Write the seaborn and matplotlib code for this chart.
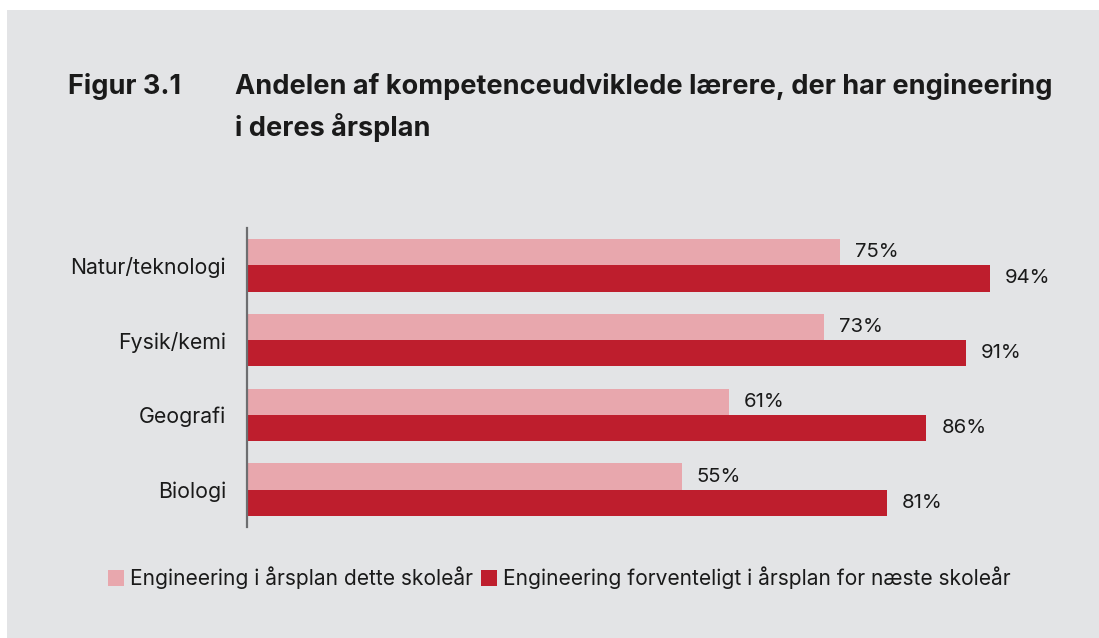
import matplotlib
matplotlib.use("Agg")
import matplotlib.pyplot as plt
import seaborn as sns
import pandas as pd
from matplotlib.patches import Patch, Rectangle

categories = ["Natur/teknologi", "Fysik/kemi", "Geografi", "Biologi"]
series_names = ["Engineering i årsplan dette skoleår",
                "Engineering forventeligt i årsplan for næste skoleår"]
this_year = [75, 73, 61, 55]
next_year = [94, 91, 86, 81]
colors = ["#e8a7ad", "#be1e2d"]
bg = "#e3e4e6"

df = pd.DataFrame({
    "Fag": categories * 2,
    "Serie": [series_names[0]] * 4 + [series_names[1]] * 4,
    "Andel": this_year + next_year,
})

sns.set_theme(style="white")
plt.rcParams["font.family"] = ["Inter", "DejaVu Sans"]

W, H = 1099, 638
fig = plt.figure(figsize=(W / 100, H / 100), dpi=100)
fig.patch.set_facecolor("white")
fig.add_artist(Rectangle((7 / W, 0), 1 - 7 / W, 1 - 10 / H, transform=fig.transFigure,
                         facecolor=bg, edgecolor="none", zorder=-10))

ax = fig.add_axes([247 / W, 111 / H, 790 / W, 299 / H])
ax.set_facecolor("none")
sns.barplot(data=df, y="Fag", x="Andel", hue="Serie", orient="h",
            palette=colors, width=0.7, ax=ax, legend=False,
            saturation=1, edgecolor="none")

ax.set_xlim(0, 100)
ax.set_ylim(3.5, -0.5)
ax.set_xlabel("")
ax.set_ylabel("")
ax.set_xticks([])
for s in ["top", "right", "bottom"]:
    ax.spines[s].set_visible(False)
ax.spines["left"].set_color("#6d6e70")
ax.spines["left"].set_linewidth(1.6)
ax.tick_params(axis="y", length=0, pad=15, labelsize=15.3, labelcolor="#1a1a1a")

for cont in ax.containers:
    ax.bar_label(cont, labels=[f"{int(v)}%" for v in cont.datavalues],
                 padding=11, fontsize=14.6, color="#1a1a1a")

fig.text(68 / W, 1 - 87 / H, "Figur 3.1", fontsize=19.5, fontweight="bold",
         color="#1a1a1a", va="center", ha="left")
fig.text(235 / W, 1 - 87 / H, "Andelen af kompetenceudviklede lærere, der har engineering",
         fontsize=19.5, fontweight="bold", color="#1a1a1a", va="center", ha="left")
fig.text(235 / W, 1 - 127 / H, "i deres årsplan",
         fontsize=19.5, fontweight="bold", color="#1a1a1a", va="center", ha="left")

handles = [Patch(facecolor=c, edgecolor="none") for c in colors]
fig.legend(handles, series_names, loc="center left",
           bbox_to_anchor=(108 / W, 1 - 578 / H), ncol=2, frameon=False,
           fontsize=15.1, handlelength=0.75, handleheight=0.75, handletextpad=0.3,
           columnspacing=0.4, borderpad=0, borderaxespad=0,
           labelcolor="#1a1a1a")

fig.savefig("out.png", dpi=100, facecolor=fig.get_facecolor())
